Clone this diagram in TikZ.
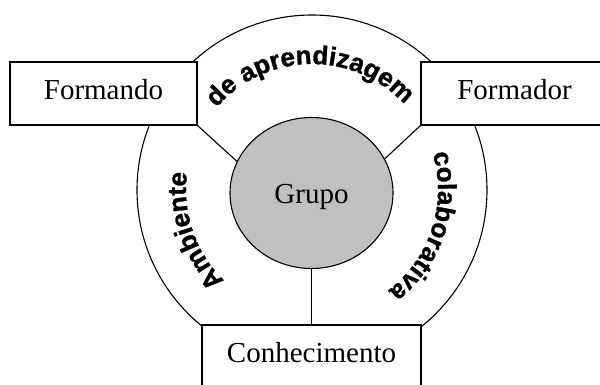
\documentclass[tikz,border=0pt]{standalone}
\usepackage{fontspec}
\setmainfont{Liberation Serif}
\setsansfont{Liberation Sans}
\newfontfamily\heavyfont{Liberation Sans}[FakeBold=1.2]
\usetikzlibrary{shapes.geometric,decorations.text}
\definecolor{grupogray}{RGB}{192,192,192}
\newcommand\curvefont{\fontsize{26}{26}\selectfont\heavyfont\bfseries}
\begin{document}
\begin{tikzpicture}[x=1pt,y=1pt,
  lbl/.style={font=\fontsize{29}{29}\selectfont},
  boxnode/.style={draw, fill=white, line width=1.1pt, rectangle, inner sep=0pt, lbl},
  conn/.style={line width=1.1pt}
]
\useasboundingbox (0,0) rectangle (600,-385);
% outer ring
\node[circle, draw, line width=1.1pt, minimum size=350pt, inner sep=0pt] (ring) at (312,-190) {};
% boxes
\node[boxnode, minimum width=187pt, minimum height=63pt, text height=20pt, text depth=7pt] (formando) at (103.5,-93.5) {Formando};
\node[boxnode, minimum width=187pt, minimum height=63pt, text height=20pt, text depth=7pt] (formador) at (514.5,-93.5) {Formador};
\node[boxnode, minimum width=219pt, minimum height=64pt, text height=20pt, text depth=10pt] (conhec) at (311.5,-357) {Conhecimento};
% central group
\node[ellipse, draw, fill=grupogray, line width=1.1pt, minimum width=163pt, minimum height=151pt, inner sep=0pt, text height=24pt, text depth=2pt, lbl] (grupo) at (311.5,-193) {Grupo};
% connectors
\draw[conn] (formando.south east) -- (grupo.157);
\draw[conn] (formador.south west) -- (grupo.25);
\draw[conn] (grupo.south) -- (conhec.north);
% curved texts
\path[decorate, decoration={text along path, text align=center, text={|\curvefont|de aprendizagem}}]
  (ring.center) ++(146:126) arc[start angle=146, end angle=36, radius=126];
\path[decorate, decoration={text along path, text align=center, text={|\curvefont|Ambiente}}]
  (ring.center) ++(234:126) arc[start angle=234, end angle=164, radius=126];
\path[decorate, decoration={text along path, text align=center, text={|\curvefont|colaborativa}}]
  (ring.center) ++(22:126) arc[start angle=22, end angle=-58, radius=126];
\end{tikzpicture}
\end{document}
